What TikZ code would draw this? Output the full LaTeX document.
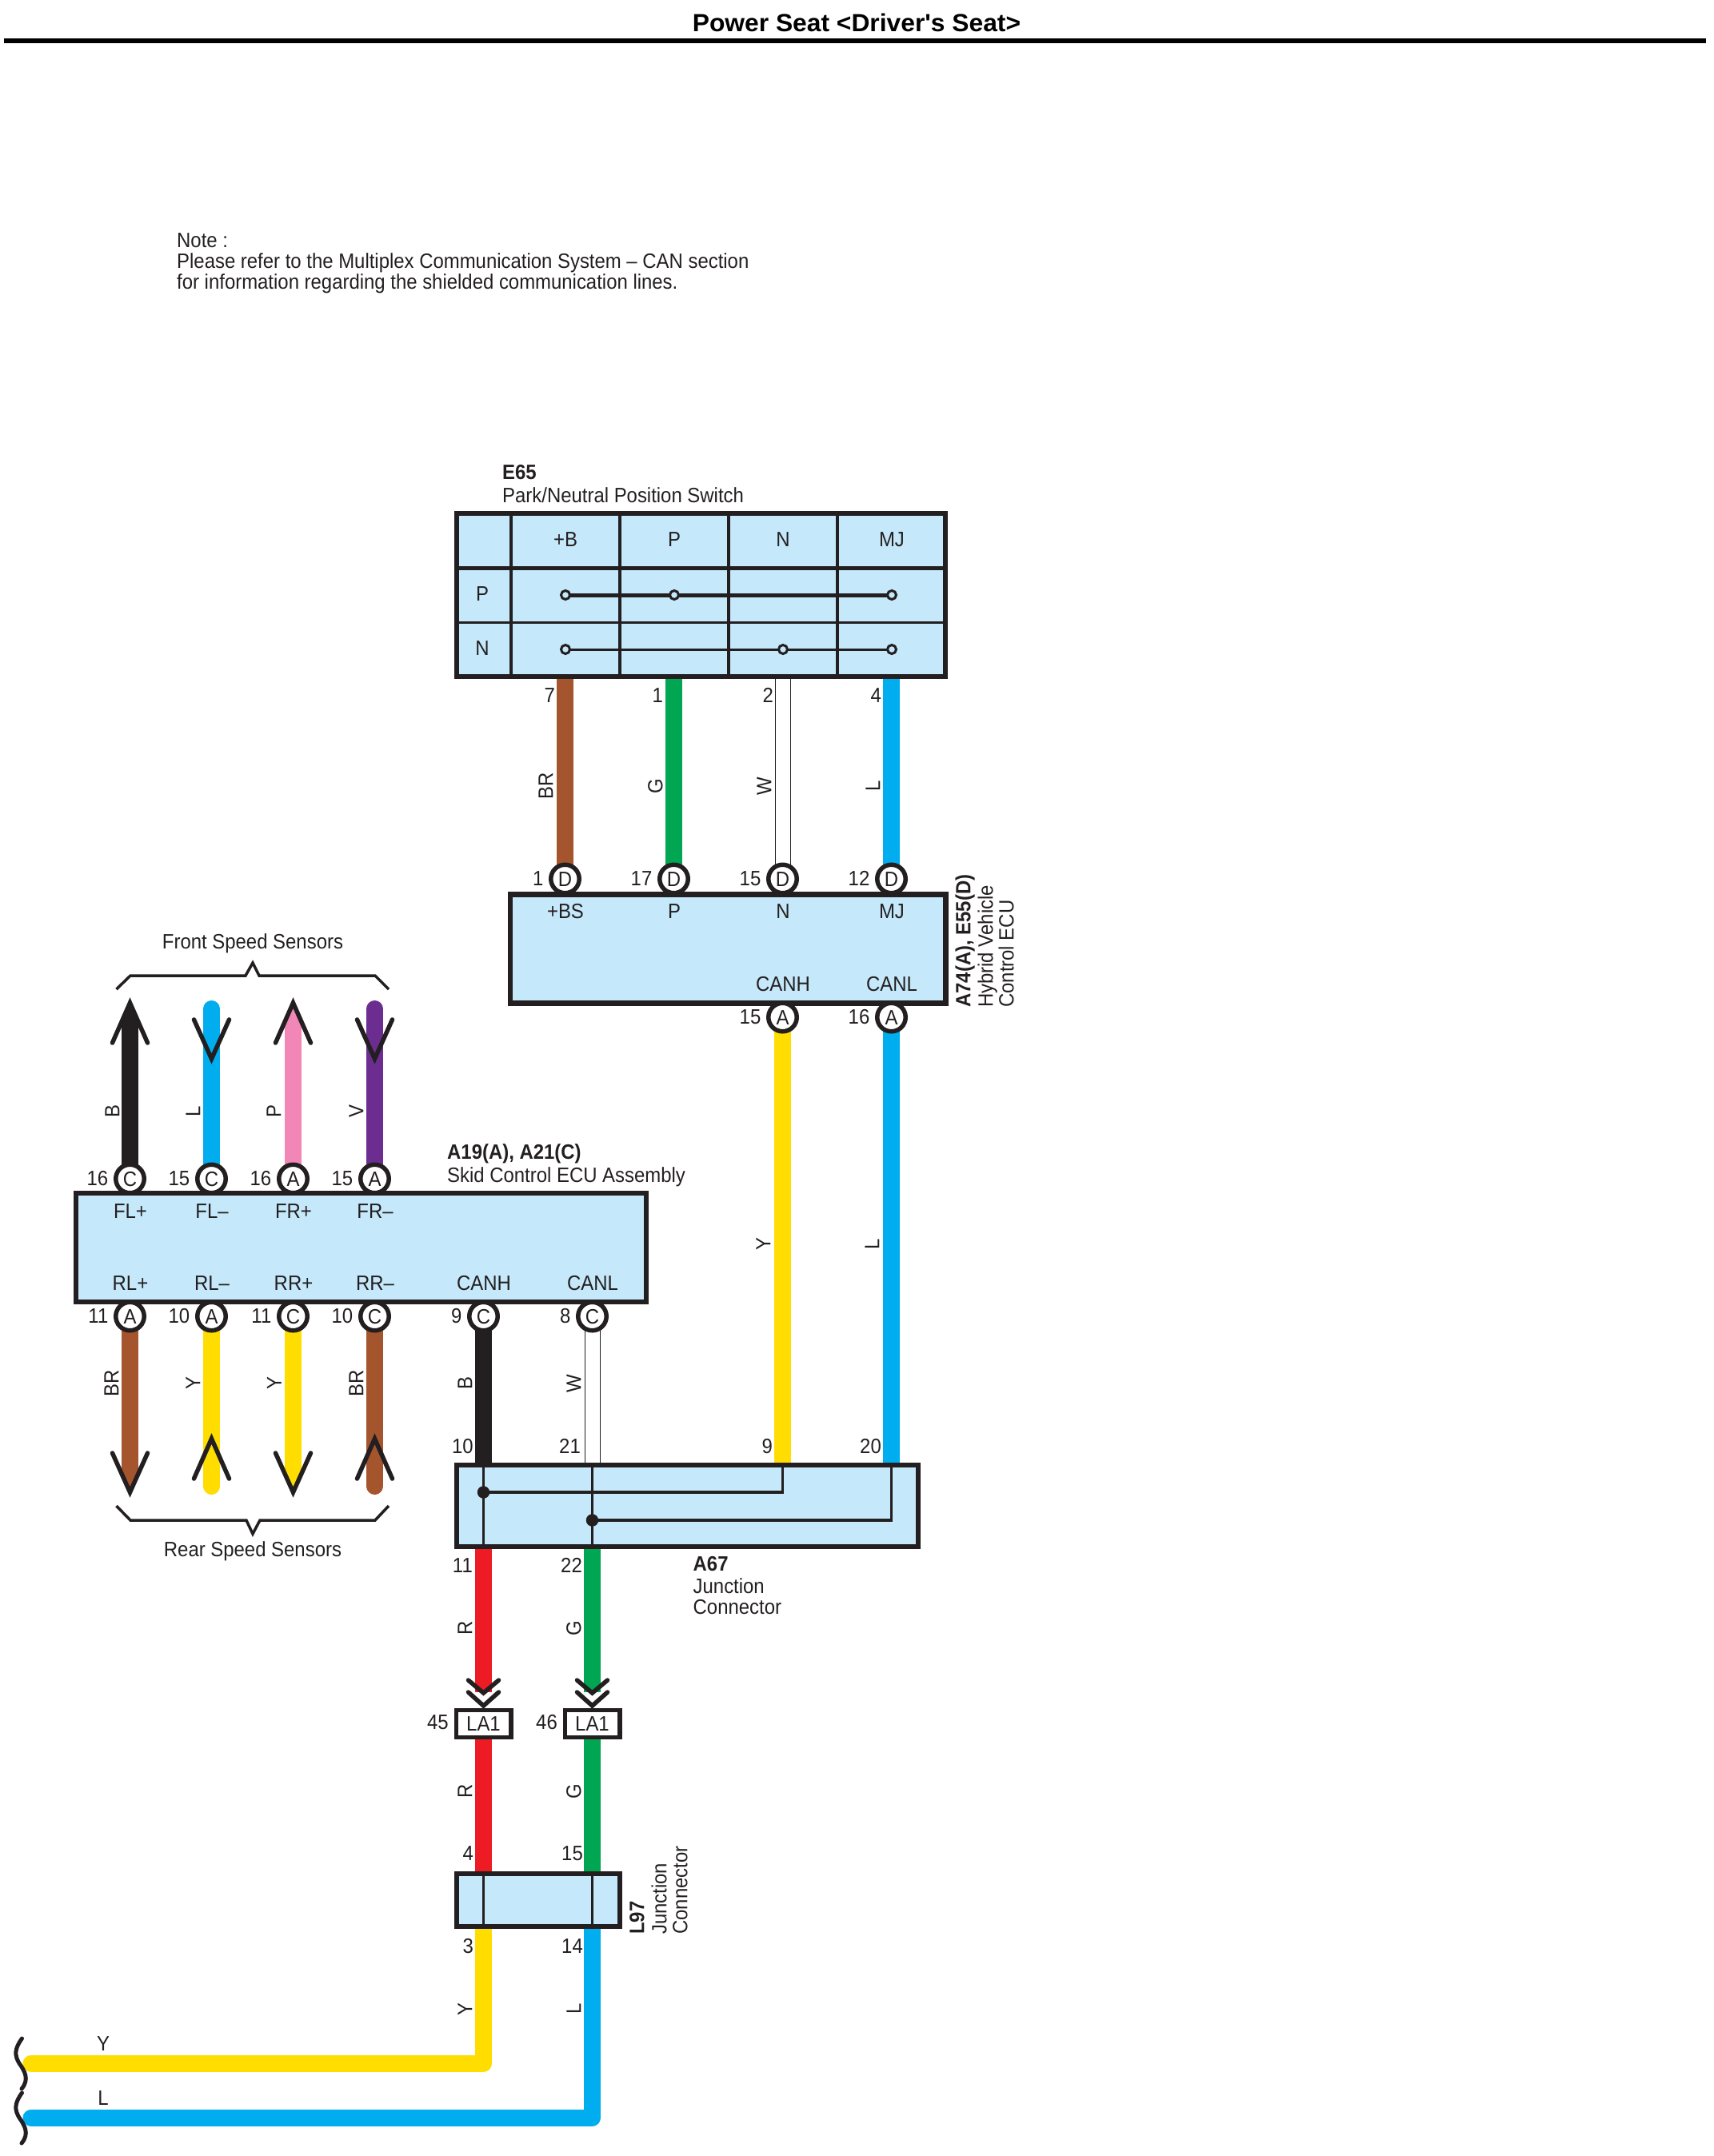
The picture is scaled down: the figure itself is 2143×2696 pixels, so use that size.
\documentclass[tikz,border=0pt]{standalone}
\usepackage{fontspec}
\setmainfont[FakeStretch=0.92]{Liberation Sans}
\newfontfamily\titlefont[FakeStretch=1.025]{Liberation Sans}
\pgfdeclarelayer{wires}
\pgfsetlayers{wires,main}
\definecolor{ink}{HTML}{231F20}
\definecolor{panelblue}{HTML}{C5E8FA}
\definecolor{wbrown}{HTML}{A5552D}
\definecolor{wgreen}{HTML}{00A651}
\definecolor{wblue}{HTML}{00AEEF}
\definecolor{wyellow}{HTML}{FFDD00}
\definecolor{wpink}{HTML}{F287B7}
\definecolor{wpurple}{HTML}{6C2D91}
\definecolor{wred}{HTML}{ED1C24}
\tikzset{
  panel/.style={draw=ink,fill=panelblue,line width=6.5pt,inner sep=0pt},
  pinc/.style={circle,draw=ink,fill=white,line width=5.5pt,minimum size=35.5pt,inner sep=0pt,text=ink,font=\fontsize{26}{26}\selectfont,text height=18.6pt,text depth=0pt},
  txt/.style={inner sep=0pt,text=ink,font=\fontsize{26}{26}\selectfont,text height=18.6pt,text depth=0pt},
  num/.style={txt,anchor=east},
  lab/.style={txt,rotate=90},
  para/.style={inner sep=0pt,text=ink,align=left,font=\fontsize{26}{26}\selectfont},
  wire/.style={draw=#1,line width=21pt},
  wwire/.style={draw=ink,line width=1pt,double=white,double distance=18pt},
  wing/.style={draw=ink,line width=5.5pt,line cap=round,line join=miter},
  grid/.style={draw=ink,line width=3.5pt},
  inner/.style={draw=ink,line width=3.3pt},
  jdot/.style={circle,fill=ink,minimum size=15.5pt,inner sep=0pt},
  swdot/.style={circle,draw=ink,fill=panelblue,line width=3pt,minimum size=11pt,inner sep=0pt},
  bracep/.style={draw=ink,line width=3.5pt},
  brk/.style={draw=ink,line width=5pt,line cap=round},
}
\newcommand{\pinc}[5]{\node[pinc] (#1) at (#2,#3) {#4};
  \node[num] (#1n) at ([xshift=-27pt,yshift=1pt]#1.center) {#5};}
\newcommand{\wingup}[2]{\draw[wing] (#1-22,#2+50) -- (#1,#2) -- (#1+22,#2+50);}
\newcommand{\wingdn}[2]{\draw[wing] (#1-22,#2-49) -- (#1,#2) -- (#1+22,#2-49);}
\begin{document}
\begin{tikzpicture}[x=1pt,y=-1pt]
\useasboundingbox (0,0) rectangle (2143,2696);
% title and note
\node[inner sep=0pt,text=black,font=\titlefont\fontsize{31}{31}\bfseries\selectfont] (title) at (1071,28.5) {Power Seat <Driver\symbol{39}s Seat>};
\coordinate (ruleL) at (5,51);
\coordinate (ruleR) at (2133,51);
\draw[black,line width=6pt] (ruleL) -- (ruleR);
\node[para,anchor=west] (note) at (221,329.5) {Note :\\Please refer to the Multiplex Communication System -- CAN section\\for information regarding the shielded communication lines.};
% panels
\node[panel,minimum width=611pt,minimum height=204pt] (e65) at (876.5,744) {};
\node[panel,minimum width=544.5pt,minimum height=136pt] (a74) at (910.25,1186.5) {};
\node[panel,minimum width=713pt,minimum height=136pt] (skid) at (451.5,1560) {};
\node[panel,minimum width=577pt,minimum height=102pt] (a67) at (859.5,1883) {};
\node[panel,minimum width=204pt,minimum height=66pt,line width=5.5pt] (l97) at (673,2376) {};
% E65 table
\foreach \xx in {639,775,911,1047} \draw[grid] (\xx,642) -- (\xx,846);
\draw[draw=ink,line width=5pt] (571,710) -- (1182,710);
\draw[draw=ink,line width=3pt] (571,778) -- (1182,778);
\foreach \xx/\tt in {707/+B,843/P,979/N,1115/MJ} \node[txt] at (\xx,674) {\tt};
\node[txt] (rowP) at (603,742) {P};
\node[txt] (rowN) at (603,810) {N};
\draw[draw=ink,line width=5pt] (707,744) -- (1115,744);
\draw[draw=ink,line width=3pt] (707,812) -- (1115,812);
\foreach \xx in {707,843,1115} \node[swdot] at (\xx,744) {};
\foreach \xx in {707,979,1115} \node[swdot] at (\xx,812) {};
\node[para,anchor=west] (e65t) at (628,605) {\textbf{E65}\\[3pt]Park/Neutral Position Switch};
% A74 pins and labels
\pinc{d1}{706.5}{1099}{D}{1}
\pinc{d17}{842.5}{1099}{D}{17}
\pinc{d15}{978.5}{1099}{D}{15}
\pinc{d12}{1114.5}{1099}{D}{12}
\pinc{a15}{978.5}{1272}{A}{15}
\pinc{a16}{1114.5}{1272}{A}{16}
\foreach \xx/\tt in {707/+BS,843/P,979/N,1115/MJ} \node[txt] at (\xx,1139) {\tt};
\node[txt] at (979,1230) {CANH};
\node[txt] at (1115,1230) {CANL};
\node[para,rotate=90,anchor=west] (a74t) at (1231,1260) {\textbf{A74(A), E55(D)}\\[2pt]Hybrid Vehicle\\Control ECU};
% E65 to A74 wires
\begin{pgfonlayer}{wires}
\draw[wire=wbrown] (d1 |- e65.south) -- (d1.center);
\draw[wire=wgreen] (d17 |- e65.south) -- (d17.center);
\draw[wwire] (d15 |- e65.south) -- (d15.center);
\draw[wire=wblue] (d12 |- e65.south) -- (d12.center);
\draw[wire=wyellow] (a15.center) -- (a15 |- a67.north);
\draw[wire=wblue] (a16.center) -- (a16 |- a67.north);
\end{pgfonlayer}
\foreach \xx/\tt in {694/7,829/1,967/2,1102/4} \node[num] at (\xx,869) {\tt};
\foreach \xx/\tt in {682/BR,819/G,955/W,1091/L} \node[lab] at (\xx,983) {\tt};
\node[lab] at (954,1556) {Y};
\node[lab] at (1090,1556) {L};
% Skid ECU
\pinc{c16}{162.5}{1474}{C}{16}
\pinc{c15}{264.5}{1474}{C}{15}
\pinc{a16t}{366.5}{1474}{A}{16}
\pinc{a15t}{468.5}{1474}{A}{15}
\pinc{a11}{162.5}{1646}{A}{11}
\pinc{a10}{264.5}{1646}{A}{10}
\pinc{c11}{366.5}{1646}{C}{11}
\pinc{c10}{468.5}{1646}{C}{10}
\pinc{c9}{604.5}{1646}{C}{9}
\pinc{c8}{740.5}{1646}{C}{8}
\foreach \xx/\tt in {163/FL+,265/FL--,367/FR+,469/FR--} \node[txt] at (\xx,1514) {\tt};
\foreach \xx/\tt in {163/RL+,265/RL--,367/RR+,469/RR--,605/CANH,741/CANL} \node[txt] at (\xx,1604) {\tt};
\node[para,anchor=west] (skidt) at (559,1457) {\textbf{A19(A), A21(C)}\\[3pt]Skid Control ECU Assembly};
% free wire ends
\coordinate (fa) at (162.5,1278);
\coordinate (fb) at (264.5,1261.5);
\coordinate (fc) at (366.5,1278);
\coordinate (fd) at (468.5,1261.5);
\coordinate (ra) at (162.5,1842);
\coordinate (rb) at (264.5,1858.5);
\coordinate (rc) at (366.5,1842);
\coordinate (rd) at (468.5,1858.5);
\begin{pgfonlayer}{wires}
\draw[wire=ink] (c16.center) -- (fa);
\fill[ink] ([xshift=-10.5pt]fa) -- (162.5,1254) -- ([xshift=10.5pt]fa) -- cycle;
\draw[wire=wblue,line cap=round] (c15.center) -- (fb);
\draw[wire=wpink] (a16t.center) -- (fc);
\fill[wpink] ([xshift=-10.5pt]fc) -- (366.5,1254) -- ([xshift=10.5pt]fc) -- cycle;
\draw[wire=wpurple,line cap=round] (a15t.center) -- (fd);
\draw[wire=wbrown] (a11.center) -- (ra);
\fill[wbrown] ([xshift=-10.5pt]ra) -- (162.5,1866) -- ([xshift=10.5pt]ra) -- cycle;
\draw[wire=wyellow,line cap=round] (a10.center) -- (rb);
\draw[wire=wyellow] (c11.center) -- (rc);
\fill[wyellow] ([xshift=-10.5pt]rc) -- (366.5,1866) -- ([xshift=10.5pt]rc) -- cycle;
\draw[wire=wbrown,line cap=round] (c10.center) -- (rd);
\draw[wire=ink] (c9.center) -- (c9 |- a67.north);
\draw[wwire] (c8.center) -- (c8 |- a67.north);
\end{pgfonlayer}
\wingup{162.5}{1254}
\wingdn{264.5}{1324}
\wingup{366.5}{1254}
\wingdn{468.5}{1324}
\wingdn{162.5}{1866}
\wingup{264.5}{1799}
\wingdn{366.5}{1866}
\wingup{468.5}{1799}
\foreach \xx/\tt in {140/B,241/L,342/P,445/V} \node[lab] at (\xx,1390) {\tt};
\foreach \xx/\tt in {139/BR,241/Y,342.5/Y,445/BR,581/B,717/W} \node[lab] at (\xx,1730) {\tt};
% braces
\draw[bracep] (145.5,1237) -- (163,1220) -- (307,1220) -- (316,1204) -- (324,1220) -- (469,1220) -- (486,1237);
\node[inner sep=0pt,text=ink,font=\fontsize{26}{26}\selectfont] (fss) at (316,1180) {Front Speed Sensors};
\draw[bracep] (145.5,1883) -- (163,1901) -- (308,1901) -- (316,1918) -- (325,1901) -- (469,1901) -- (486,1883);
\node[inner sep=0pt,text=ink,font=\fontsize{26}{26}\selectfont] (rss) at (316,1940) {Rear Speed Sensors};
% A67 internals
\node[jdot] (j1) at (604.5,1866) {};
\node[jdot] (j2) at (740.5,1901) {};
\draw[inner] (j1 |- a67.north) -- (j1 |- a67.south);
\draw[inner] (j2 |- a67.north) -- (j2 |- a67.south);
\draw[inner] (j1.center) -| (a15 |- a67.north);
\draw[inner] (j2.center) -| (a16 |- a67.north);
\foreach \xx/\tt in {592/10,726/21,966/9,1102/20} \node[num] at (\xx,1808) {\tt};
\foreach \xx/\tt in {591/11,728/22} \node[num] at (\xx,1957) {\tt};
\node[para,anchor=west] (a67t) at (866.5,1983) {\textbf{A67}\\[2pt]Junction\\Connector};
% LA1 connectors
\node[draw=ink,fill=white,line width=5.5pt,inner sep=0pt,minimum width=68.5pt,minimum height=34pt,txt] (la1) at (604.5,2155.5) {LA1};
\node[draw=ink,fill=white,line width=5.5pt,inner sep=0pt,minimum width=68.5pt,minimum height=34pt,txt] (la2) at (740.5,2155.5) {LA1};
\node[num] (n45) at (561,2153) {45};
\node[num] (n46) at (697,2153) {46};
\begin{pgfonlayer}{wires}
\draw[wire=wred] (j1 |- a67.south) -- ([yshift=20pt]la1.north);
\draw[wire=wgreen] (j2 |- a67.south) -- ([yshift=20pt]la2.north);
\draw[wire=wred] (la1.south) -- (la1 |- l97.north);
\draw[wire=wgreen] (la2.south) -- (la2 |- l97.north);
\coordinate (yend) at (39,2580);
\coordinate (lend) at (39,2648);
\draw[wire=wyellow,line join=round,line cap=round] (la1 |- l97.south) |- (yend);
\draw[wire=wblue,line join=round,line cap=round] (la2 |- l97.south) |- (lend);
\end{pgfonlayer}
\foreach \xx in {604.5,740.5} {
  \draw[wing] (\xx-19,2101) -- (\xx,2117) -- (\xx+19,2101);
  \draw[wing] (\xx-19,2116) -- (\xx,2133) -- (\xx+19,2116);
}
\node[lab] at (581,2036) {R};
\node[lab] at (717,2036) {G};
\node[lab] at (581,2240) {R};
\node[lab] at (717,2240) {G};
\node[lab] at (581,2512) {Y};
\node[lab] at (717,2512) {L};
% L97
\draw[grid] (la1 |- l97.north) -- (la1 |- l97.south);
\draw[grid] (la2 |- l97.north) -- (la2 |- l97.south);
\node[num] at (592,2317) {4};
\node[num] at (729,2317) {15};
\node[num] at (592,2433) {3};
\node[num] at (729,2433) {14};
\node[para,rotate=90,anchor=west] (l97t) at (823.5,2419) {\textbf{L97}\\[2pt]Junction\\Connector};
% outgoing wires
\node[txt] (ly) at (129,2555) {Y};
\node[txt] (ll) at (129,2623) {L};
\draw[brk] (27.5,2549) .. controls (18,2562) and (18,2570) .. (24,2580) .. controls (31,2590) and (37,2600) .. (27,2612);
\draw[brk] (27.5,2617) .. controls (18,2630) and (18,2638) .. (24,2648) .. controls (31,2658) and (37,2668) .. (27,2680);
\end{tikzpicture}
\end{document}
